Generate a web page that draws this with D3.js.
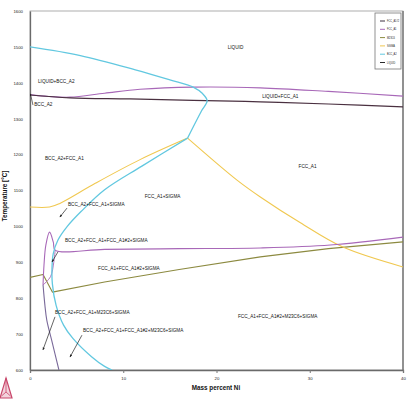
<!DOCTYPE html>
<html>
<head>
<meta charset="utf-8">
<script src="https://cdn.jsdelivr.net/npm/d3@7"></script>
<style>
  body { margin: 0; background: #fff; }
  svg { display: block; }
  text { font-family: "Liberation Sans", Arial, sans-serif; }
</style>
</head>
<body>
<div id="chart"></div>
<script>
// phase boundaries, [mass percent Ni, temperature C]
const bccUpper = [[0,1500],[5.4,1476],[11.3,1436],[15,1408],[17.5,1388],[18.5,1370],[19,1350],[18.4,1322],[16.9,1246]];
const bccLower = [[16.9,1246],[12,1168],[8,1102],[5.5,1042],[4,1000],[3,962],[2.5,925],[2.36,885],[2.4,840],[2.8,780],[3.6,725],[4.6,688],[6.6,637],[8.0,610],[8.8,600]];
const sigmaLine = [[0,1054],[2.1,1054],[3.2,1064],[7,1120],[11.8,1186],[16.9,1246]];
const sigmaRight = [[16.9,1246],[22.2,1129],[24.7,1082],[29,1010],[33.5,943],[40,887]];
const fccLiquidus = [[0,1367],[2,1362],[4.3,1360],[8,1371],[11.8,1382],[17.5,1388],[24.7,1386],[32,1376],[40,1363]];
const liquidSolidus = [[0,1366],[4.3,1358],[10.7,1355],[17.5,1351],[24.7,1347],[32,1341],[40,1333]];
const fcc2Solvus = [[1.4,837],[1.5,892],[1.7,948],[2.1,984],[2.5,956],[2.7,934],[8,936],[16,938],[24.7,940],[32.2,948],[40,970]];
const fcc2Back = [[2.7,934],[2.55,900],[2.2,860],[1.4,837]];
const fcc2Lower = [[1.4,837],[1.6,780],[1.8,739],[2.4,675],[3.1,600]];
const m23c6Line = [[0,858],[1.4,866],[2.4,817],[8,845],[16,880],[24.7,915],[32,938],[40,957]];

const xTicks = [0, 10, 20, 30, 40];
const yTicks = [600, 700, 800, 900, 1000, 1100, 1200, 1300, 1400, 1500, 1600];

const legendNames = ["FCC_A1#2", "FCC_A1", "M23C6", "SIGMA", "BCC_A2", "LIQUID"];
const legendColors = ["#3d3040", "#a868b8", "#8c8a40", "#f0c850", "#62c8e0", "#2a2a2a"];

const regionLabels = [
  ["LIQUID", 21.2, 1500],
  ["LIQUID+BCC_A2", 0.86, 1405],
  ["BCC_A2", 0.45, 1340],
  ["LIQUID+FCC_A1", 24.9, 1363],
  ["BCC_A2+FCC_A1", 1.6, 1191],
  ["FCC_A1", 28.8, 1168],
  ["FCC_A1+SIGMA", 12.3, 1085],
  ["BCC_A2+FCC_A1+SIGMA", 4.07, 1062],
  ["BCC_A2+FCC_A1+FCC_A1#2+SIGMA", 3.75, 962],
  ["FCC_A1+FCC_A1#2+SIGMA", 7.3, 884],
  ["BCC_A2+FCC_A1+M23C6+SIGMA", 2.68, 762],
  ["BCC_A2+FCC_A1+FCC_A1#2+M23C6+SIGMA", 5.68, 711],
  ["FCC_A1+FCC_A1#2+M23C6+SIGMA", 22.3, 750]
];
// pointer lines from label to region
const pointers = [
  [[3.97,1051],[3.2,1026]],
  [[3.0,929],[2.36,901]],
  [[2.68,748],[1.39,656]],
  [[5.57,697],[4.29,636]]
];

const width = 407, height = 402;
const svg = d3.select("#chart").append("svg").attr("width", width).attr("height", height);

const x = d3.scaleLinear().domain([0, 40]).range([30, 403]);
const y = d3.scaleLinear().domain([600, 1600]).range([370, 11]);

svg.append("defs").append("clipPath").attr("id", "plotclip")
  .append("rect").attr("x", 30).attr("y", 11).attr("width", 373).attr("height", 359);

// frame
svg.append("rect").attr("x", 30).attr("y", 11).attr("width", 373).attr("height", 359)
  .attr("fill", "none").attr("stroke", "#9a9a9a").attr("stroke-width", 0.8);
svg.append("line").attr("x1", 403).attr("x2", 403).attr("y1", 11).attr("y2", 371)
  .attr("stroke", "#8a8a8a").attr("stroke-width", 1.8);

// axes
const xAxis = svg.append("g").attr("transform", "translate(0,370)")
  .call(d3.axisBottom(x).tickValues(xTicks).tickFormat(d3.format("d")).tickSize(3).tickPadding(4));
const yAxis = svg.append("g").attr("transform", "translate(30,0)")
  .call(d3.axisLeft(y).tickValues(yTicks).tickFormat(d3.format("d")).tickSize(0).tickPadding(7));
[xAxis, yAxis].forEach(function(a) {
  a.select(".domain").attr("stroke", "#6a6a6a").attr("stroke-width", 1.3);
  a.selectAll(".tick line").attr("stroke", "#777");
  a.selectAll(".tick text").attr("font-size", "4.3px").attr("fill", "#222")
    .style("font-family", "'Liberation Sans', sans-serif");
});

const plot = svg.append("g").attr("clip-path", "url(#plotclip)");

const smooth = d3.line().x(d => x(d[0])).y(d => y(d[1])).curve(d3.curveCatmullRom.alpha(0.5));
const straight = d3.line().x(d => x(d[0])).y(d => y(d[1]));

function curve(data, color, w, gen) {
  plot.append("path").datum(data).attr("d", gen || smooth)
    .attr("fill", "none").attr("stroke", color).attr("stroke-width", w || 1.1)
    .attr("stroke-linejoin", "round");
}

curve(m23c6Line, "#8c8a40", 1.1, straight);
curve(sigmaLine, "#f0c850", 1.1);
curve(sigmaRight, "#f0c850", 1.1);
curve(fcc2Solvus, "#a868b8", 1.1);
curve(fcc2Back, "#a868b8", 0.9);
curve(fcc2Lower, "#7a6a9a", 1.1);
curve(fccLiquidus, "#a868b8", 1.1);
curve(liquidSolidus, "#4a3040", 1.2);
curve(bccUpper, "#62c8e0", 1.3);
curve(bccLower, "#62c8e0", 1.3);

// BCC_A2 pointer
plot.append("line").attr("x1", x(0.1)).attr("y1", y(1363)).attr("x2", x(0.32)).attr("y2", y(1338))
  .attr("stroke", "#333").attr("stroke-width", 0.7);
plot.append("circle").attr("cx", x(0)).attr("cy", y(1366)).attr("r", 1.3).attr("fill", "#222");

// arrows
svg.select("defs").append("marker").attr("id", "arrow").attr("viewBox", "0 0 10 10")
  .attr("refX", 9).attr("refY", 5).attr("markerWidth", 4).attr("markerHeight", 4).attr("orient", "auto")
  .append("path").attr("d", "M0,1 L10,5 L0,9 Z").attr("fill", "#222");
svg.selectAll(".pointer").data(pointers).join("line").attr("class", "pointer")
  .attr("x1", d => x(d[0][0])).attr("y1", d => y(d[0][1]))
  .attr("x2", d => x(d[1][0])).attr("y2", d => y(d[1][1]))
  .attr("stroke", "#222").attr("stroke-width", 0.7).attr("marker-end", "url(#arrow)");

// squeeze text like the condensed font of the original
function squeeze(sel, k) {
  sel.each(function() {
    const len = this.getComputedTextLength();
    d3.select(this).attr("textLength", len * k).attr("lengthAdjust", "spacingAndGlyphs");
  });
}

// region labels
svg.selectAll(".region").data(regionLabels).join("text").attr("class", "region")
  .attr("x", d => x(d[1])).attr("y", d => y(d[2]))
  .attr("dy", "0.35em").attr("font-size", "6px").attr("fill", "#111")
  .text(d => d[0])
  .call(squeeze, 0.78);

// axis titles
svg.append("text").attr("x", 216).attr("y", 390).attr("text-anchor", "middle")
  .attr("font-size", "6.3px").attr("font-weight", "bold").attr("fill", "#111")
  .text("Mass percent Ni");
svg.append("text").attr("transform", "translate(7,196) rotate(-90)").attr("text-anchor", "middle")
  .attr("font-size", "6.3px").attr("font-weight", "bold").attr("fill", "#111")
  .text("Temperature [°C]");

// legend
const legend = svg.append("g");
legend.append("rect").attr("x", 375).attr("y", 13).attr("width", 26).attr("height", 56)
  .attr("fill", "#fff").attr("stroke", "#777").attr("stroke-width", 0.8);
legendNames.forEach(function(name, i) {
  const ly = 21 + i * 8.3;
  legend.append("line").attr("x1", 380).attr("x2", 385).attr("y1", ly).attr("y2", ly)
    .attr("stroke", legendColors[i]).attr("stroke-width", 1);
  legend.append("text").attr("x", 387).attr("y", ly).attr("dy", "0.35em")
    .attr("font-size", "3.3px").attr("fill", "#222").text(name)
    .call(squeeze, 0.75);
});

// logo
const logo = svg.append("g").attr("fill", "none").attr("stroke", "#c8466a").attr("stroke-width", 1.2);
logo.append("path").attr("d", "M6,378 L12,398 L0,398 Z").attr("fill", "#f3d3dc");
logo.append("path").attr("d", "M6,378 L6,392 M1.5,396 L6,392 L10.5,396").attr("stroke-width", 0.8);
</script>
</body>
</html>
